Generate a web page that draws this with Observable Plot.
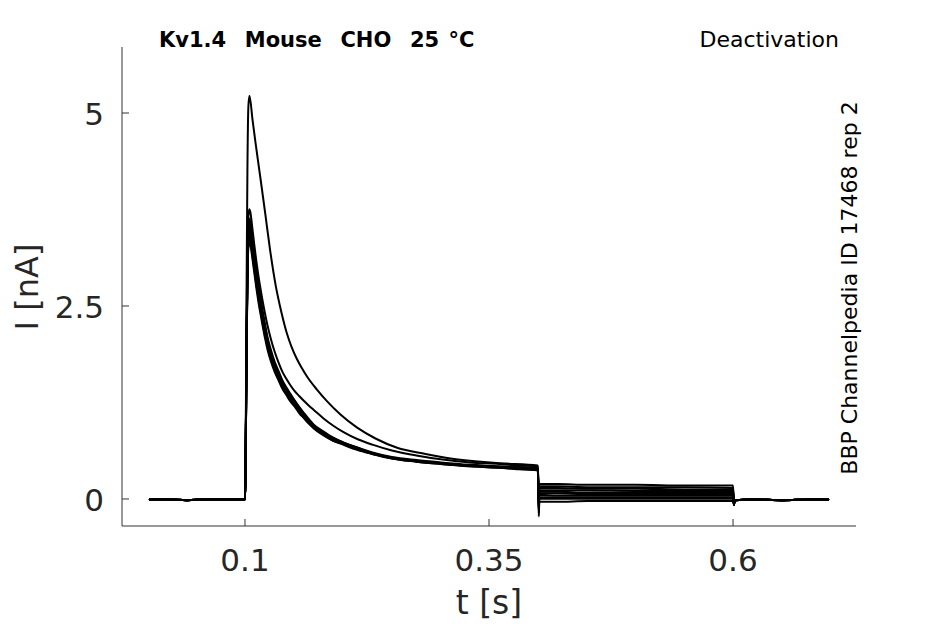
<!DOCTYPE html>
<html>
<head>
<meta charset="utf-8">
<script src="https://cdn.jsdelivr.net/npm/d3@7"></script>
<script src="https://cdn.jsdelivr.net/npm/@observablehq/plot@0.6"></script>
<style>
  html, body { margin: 0; padding: 0; background: #fff; }
  #chart { width: 945px; height: 624px; }
</style>
</head>
<body>
<div id="chart"></div>
<script>
// ---- data ----
const xTicks = [0.1, 0.35, 0.6];
const yTicks = [0, 2.5, 5];
const xTickLabels = ["0.1", "0.35", "0.6"];
const yTickLabels = ["0", "2.5", "5"];

const tBase = [0.002, 0.02, 0.04, 0.06, 0.08, 0.0995];
const baseVals = [0.0, 0.0, -0.01, 0.0, 0.0, 0.0];

// time points of the test pulse (shared by most sweeps)
const tPulse = [0.1, 0.101, 0.102, 0.103, 0.104, 0.105, 0.107, 0.109, 0.111, 0.113, 0.115, 0.117, 0.12, 0.123, 0.126, 0.13, 0.134, 0.138, 0.142, 0.146, 0.15, 0.155, 0.16, 0.165, 0.17, 0.18, 0.19, 0.2, 0.215, 0.23, 0.25, 0.275, 0.3, 0.33, 0.36, 0.38, 0.3995];
// time points of the largest sweep
const tPulseS1 = [0.1, 0.101, 0.102, 0.103, 0.1041, 0.1072, 0.1103, 0.1161, 0.1205, 0.1249, 0.1307, 0.1369, 0.1427, 0.1471, 0.1523, 0.1574, 0.1632, 0.1728, 0.1837, 0.1973, 0.2144, 0.2332, 0.2554, 0.2844, 0.31, 0.3613, 0.3995];

const pulseS1 = [0.3, 2.5, 4.3, 5.1, 5.23, 4.92, 4.62, 4.09, 3.68, 3.26, 2.79, 2.42, 2.14, 1.98, 1.83, 1.71, 1.59, 1.43, 1.27, 1.10, 0.93, 0.79, 0.67, 0.59, 0.53, 0.47, 0.44];
const pulseS2 = [0.3, 2.0, 3.3, 3.68, 3.76, 3.72, 3.52, 3.3, 3.1, 2.92, 2.76, 2.61, 2.41, 2.23, 2.08, 1.91, 1.77, 1.65, 1.56, 1.48, 1.41, 1.34, 1.275, 1.215, 1.16, 1.05, 0.955, 0.875, 0.78, 0.71, 0.635, 0.57, 0.52, 0.48, 0.46, 0.44, 0.43];
const pulseM1 = [0.3, 1.86, 3.1, 3.57, 3.64, 3.6, 3.42, 3.21, 3.0, 2.81, 2.65, 2.49, 2.27, 2.08, 1.94, 1.78, 1.66, 1.54, 1.45, 1.37, 1.29, 1.2, 1.12, 1.04, 0.97, 0.88, 0.8, 0.74, 0.67, 0.61, 0.55, 0.51, 0.48, 0.45, 0.43, 0.42, 0.41];
const pulseM2 = [0.3, 1.83, 3.05, 3.51, 3.58, 3.54, 3.36, 3.15, 2.95, 2.77, 2.6, 2.45, 2.24, 2.05, 1.91, 1.76, 1.63, 1.52, 1.43, 1.35, 1.28, 1.19, 1.1, 1.03, 0.96, 0.87, 0.79, 0.74, 0.67, 0.6, 0.54, 0.5, 0.47, 0.44, 0.42, 0.41, 0.40];
const pulseM3 = [0.3, 1.8, 3.0, 3.45, 3.52, 3.48, 3.3, 3.1, 2.9, 2.72, 2.56, 2.41, 2.2, 2.02, 1.88, 1.73, 1.61, 1.5, 1.41, 1.33, 1.26, 1.17, 1.09, 1.02, 0.95, 0.86, 0.78, 0.73, 0.66, 0.6, 0.54, 0.5, 0.47, 0.44, 0.42, 0.41, 0.40];
const pulseM4 = [0.3, 1.77, 2.95, 3.39, 3.46, 3.42, 3.24, 3.05, 2.85, 2.67, 2.52, 2.37, 2.16, 1.99, 1.85, 1.7, 1.59, 1.48, 1.39, 1.31, 1.24, 1.15, 1.08, 1.01, 0.94, 0.85, 0.77, 0.72, 0.65, 0.6, 0.54, 0.5, 0.47, 0.44, 0.42, 0.4, 0.39];
const pulseM5 = [0.3, 1.74, 2.9, 3.33, 3.4, 3.36, 3.18, 2.99, 2.8, 2.63, 2.47, 2.33, 2.13, 1.96, 1.82, 1.68, 1.56, 1.46, 1.37, 1.29, 1.23, 1.14, 1.06, 1.0, 0.93, 0.84, 0.76, 0.72, 0.65, 0.59, 0.53, 0.49, 0.46, 0.43, 0.41, 0.4, 0.39];
const pulseM6 = [0.3, 1.72, 2.84, 3.27, 3.33, 3.3, 3.13, 2.94, 2.75, 2.58, 2.43, 2.29, 2.09, 1.92, 1.79, 1.65, 1.54, 1.43, 1.35, 1.27, 1.21, 1.12, 1.05, 0.98, 0.92, 0.83, 0.76, 0.71, 0.64, 0.59, 0.53, 0.49, 0.46, 0.43, 0.41, 0.39, 0.38];
const pulseM7 = [0.3, 1.8, 3.02, 3.48, 3.55, 3.51, 3.33, 3.12, 2.92, 2.74, 2.58, 2.43, 2.22, 2.03, 1.9, 1.74, 1.62, 1.51, 1.42, 1.34, 1.27, 1.18, 1.1, 1.02, 0.95, 0.86, 0.78, 0.73, 0.66, 0.6, 0.54, 0.5, 0.47, 0.44, 0.42, 0.41, 0.40];
const pulseM8 = [0.3, 1.78, 2.98, 3.42, 3.49, 3.45, 3.27, 3.08, 2.88, 2.7, 2.54, 2.39, 2.18, 2.0, 1.86, 1.72, 1.6, 1.49, 1.4, 1.32, 1.25, 1.16, 1.08, 1.01, 0.94, 0.85, 0.78, 0.72, 0.66, 0.6, 0.54, 0.5, 0.47, 0.44, 0.42, 0.4, 0.39];

const tTail = [0.4005, 0.401, 0.42, 0.45, 0.5, 0.55, 0.5995];
const tailS1 = [0.05, 0.2, 0.2, 0.19, 0.19, 0.18, 0.18];
const tailS2 = [0.02, 0.17, 0.17, 0.16, 0.16, 0.16, 0.15];
const tailM1 = [0.0, 0.15, 0.15, 0.14, 0.14, 0.13, 0.13];
const tailM2 = [-0.03, 0.12, 0.12, 0.12, 0.11, 0.11, 0.11];
const tailM3 = [-0.06, 0.10, 0.10, 0.09, 0.09, 0.09, 0.09];
const tailM4 = [-0.09, 0.08, 0.08, 0.07, 0.07, 0.07, 0.07];
const tailM5 = [-0.12, 0.06, 0.05, 0.05, 0.05, 0.05, 0.05];
const tailM6 = [-0.15, 0.03, 0.03, 0.03, 0.03, 0.03, 0.03];
const tailM7 = [-0.18, 0.01, 0.01, 0.01, 0.01, 0.01, 0.01];
const tailM8 = [-0.22, -0.03, -0.03, -0.02, -0.02, -0.02, -0.02];

const tEnd = [0.6005, 0.601, 0.62, 0.65, 0.68, 0.697];
const endVals = [-0.07, -0.01, 0.0, -0.01, 0.0, 0.0];

const sweepNames = ["M8","M7","M6","M5","M4","M3","M2","M1","S2","S1"];
const pulses = {S1: pulseS1, S2: pulseS2, M1: pulseM1, M2: pulseM2, M3: pulseM3, M4: pulseM4, M5: pulseM5, M6: pulseM6, M7: pulseM7, M8: pulseM8};
const pulseTimes = {S1: tPulseS1};
const tails = {S1: tailS1, S2: tailS2, M1: tailM1, M2: tailM2, M3: tailM3, M4: tailM4, M5: tailM5, M6: tailM6, M7: tailM7, M8: tailM8};

// ---- build table ----
const rows = [];
for (const s of sweepNames) {
  const tp = pulseTimes[s] || tPulse;
  tBase.forEach((t, i) => rows.push({sweep: s, t, I: baseVals[i]}));
  tp.forEach((t, i) => rows.push({sweep: s, t, I: pulses[s][i]}));
  tTail.forEach((t, i) => rows.push({sweep: s, t, I: tails[s][i]}));
  tEnd.forEach((t, i) => rows.push({sweep: s, t, I: endVals[i]}));
}

const W = 945, H = 624;
const mL = 122, mR = 89, mT = 47, mB = 98;
const xDom = [-0.026, 0.726];
const yDom = [-0.35, 5.855];
const axisColor = "#333";
const labelColor = "#262626";
const font = "DejaVu Sans, sans-serif";

const plot = Plot.plot({
  width: W, height: H,
  marginLeft: mL, marginRight: mR, marginTop: mT, marginBottom: mB,
  x: {domain: xDom, axis: null},
  y: {domain: yDom, axis: null},
  style: {fontFamily: font, background: "white", overflow: "visible"},
  marks: [
    Plot.line(rows, {x: "t", y: "I", z: "sweep", stroke: "black", strokeWidth: 2, curve: "monotone-x"})
  ]
});

const svg = d3.select(plot);
const x = plot.scale("x"), y = plot.scale("y");
const sx = v => x.apply(v), sy = v => y.apply(v);
const x0 = mL, x1 = W - mR, y0 = H - mB, y1 = mT;

// axes lines
svg.append("line").attr("x1", x0).attr("x2", x1).attr("y1", y0).attr("y2", y0).attr("stroke", axisColor).attr("stroke-width", 1);
svg.append("line").attr("x1", x0).attr("x2", x0).attr("y1", y0).attr("y2", y1).attr("stroke", axisColor).attr("stroke-width", 1);
// ticks (inward) and labels
xTicks.forEach((v, i) => {
  svg.append("line").attr("x1", sx(v)).attr("x2", sx(v)).attr("y1", y0).attr("y2", y0 - 7).attr("stroke", axisColor);
  svg.append("text").attr("x", sx(v)).attr("y", y0 + 45).attr("text-anchor", "middle")
    .attr("font-family", font).attr("font-size", 31).attr("fill", labelColor).text(xTickLabels[i]);
});
yTicks.forEach((v, i) => {
  svg.append("line").attr("x1", x0).attr("x2", x0 + 7).attr("y1", sy(v)).attr("y2", sy(v)).attr("stroke", axisColor);
  svg.append("text").attr("x", x0 - 18).attr("y", sy(v) + 12).attr("text-anchor", "end")
    .attr("font-family", font).attr("font-size", 31).attr("fill", labelColor).text(yTickLabels[i]);
});
// axis titles
svg.append("text").attr("x", (x0 + x1) / 2).attr("y", 614).attr("text-anchor", "middle")
  .attr("font-family", font).attr("font-size", 33).attr("fill", labelColor).text("t [s]");
svg.append("text").attr("transform", "translate(38,287) rotate(-90)").attr("text-anchor", "middle")
  .attr("font-family", font).attr("font-size", 32).attr("fill", labelColor).text("I [nA]");
// titles
svg.append("text").attr("x", 159).attr("y", 47).attr("text-anchor", "start").attr("font-family", font)
  .attr("font-size", 21).attr("font-weight", "bold").attr("fill", "black")
  .attr("xml:space", "preserve").style("white-space", "pre").style("word-spacing", "2px")
  .text("Kv1.4  Mouse  CHO  25 °C");
svg.append("text").attr("x", 839).attr("y", 47).attr("text-anchor", "end").attr("font-family", font)
  .attr("font-size", 22).attr("fill", "black").text("Deactivation");
svg.append("text").attr("transform", "translate(857,288) rotate(-90)").attr("text-anchor", "middle")
  .attr("font-family", font).attr("font-size", 22).attr("fill", "black").text("BBP Channelpedia ID 17468 rep 2");

document.getElementById("chart").appendChild(plot);
</script>
</body>
</html>
